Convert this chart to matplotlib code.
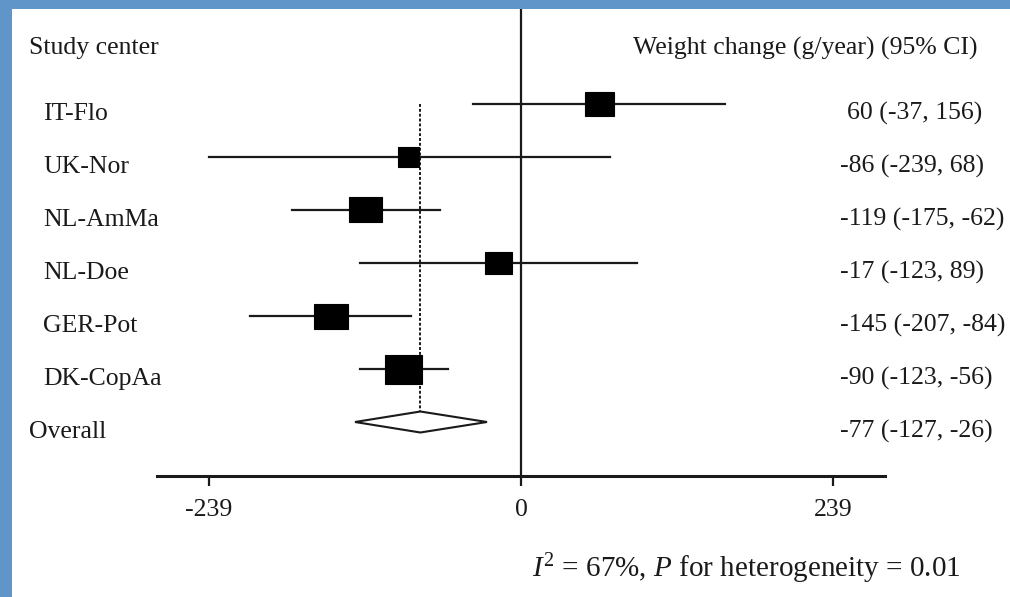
import matplotlib.pyplot as plt
from matplotlib.patches import Rectangle, Polygon
from matplotlib.transforms import blended_transform_factory

centers = ["IT-Flo", "UK-Nor", "NL-AmMa", "NL-Doe", "GER-Pot", "DK-CopAa"]
estimate = [60, -86, -119, -17, -145, -90]
ci_low = [-37, -239, -175, -123, -207, -123]
ci_high = [156, 68, -62, 89, -84, -56]
overall = -77
overall_ci = (-127, -26)
ticks = [-239, 0, 239]
i2, p_het = 67, 0.01

# box sizes in pixels (width, height), roughly by study weight
box_px = [(29, 24), (21, 20), (33, 25), (27, 22), (34, 25), (37, 29)]

W, H = 1010, 597
ink = "#1a1a1a"
plt.rcParams["font.family"] = ["Liberation Serif", "DejaVu Serif"]
plt.rcParams["mathtext.fontset"] = "custom"
plt.rcParams["mathtext.rm"] = "Liberation Serif"
plt.rcParams["mathtext.it"] = "Liberation Serif:italic"

fig = plt.figure(figsize=(W / 100, H / 100), dpi=100)
fig.patch.set_facecolor("#5f95c8")
fig.add_artist(Rectangle((12 / W, 0), 1, (H - 9) / H, transform=fig.transFigure,
                         facecolor="white", edgecolor="none", zorder=0))

# axes frame: x-axis from px 157 to 885, y from top of panel down to px 476
ax = fig.add_axes([157 / W, (H - 476) / H, (885 - 157) / W, (476 - 9) / H])
ax.set_facecolor("none")
ax.set_xlim(-278.5, 278.5)
row_px = 53.0
ax.set_ylim((476 - 104) / row_px, (9 - 104) / row_px)
px_x = (885 - 157) / (278.5 * 2)

for s in ("top", "right", "left"):
    ax.spines[s].set_visible(False)
ax.spines["bottom"].set_linewidth(2.2)
ax.spines["bottom"].set_color(ink)
ax.set_yticks([])
ax.set_xticks(ticks)
ax.set_xticklabels([str(t) for t in ticks])
ax.tick_params(axis="x", length=7.5, width=1.6, color=ink, pad=9,
               labelsize=18.5, labelcolor=ink)

ax.axvline(0, color=ink, lw=1.6, zorder=1)

n = len(centers)
ax.plot([overall, overall], [0, n], color=ink, lw=1.4, ls=(0, (1.5, 1.0)), zorder=1)

for i in range(n):
    ax.plot([ci_low[i], ci_high[i]], [i, i], color=ink, lw=1.6, zorder=2)
    bw = box_px[i][0] / px_x
    bh = box_px[i][1] / row_px
    ax.add_patch(Rectangle((estimate[i] - bw / 2, i - bh / 2), bw, bh,
                           facecolor="black", edgecolor="black", lw=0.8, zorder=3))

dh = 10.5 / row_px
ax.add_patch(Polygon([(overall_ci[0], n), (overall, n - dh), (overall_ci[1], n), (overall, n + dh)],
                     closed=True, facecolor="white", edgecolor=ink, lw=1.5, zorder=2))

# text columns: x in figure pixels, y in rows
def fx(px):
    return px / W

lab_tr = blended_transform_factory(fig.transFigure, ax.transData)
base = 16 / row_px
fs = 18.5
head_y = (54.5 - 104) / row_px

ax.text(fx(29), head_y, "Study center", transform=lab_tr,
        fontsize=fs, color=ink, va="baseline", ha="left")
ax.text(fx(633), head_y, "Weight change (g/year) (95% CI)",
        transform=lab_tr, fontsize=fs, color=ink, va="baseline", ha="left")

for i in range(n):
    ax.text(fx(43), i + base, centers[i], transform=lab_tr, fontsize=fs, color=ink,
            va="baseline", ha="left")
    lbl = f"{estimate[i]} ({ci_low[i]}, {ci_high[i]})"
    x0 = 840 if estimate[i] < 0 else 847
    ax.text(fx(x0), i + base, lbl, transform=lab_tr, fontsize=fs, color=ink,
            va="baseline", ha="left")

ax.text(fx(29), n + base, "Overall", transform=lab_tr, fontsize=fs, color=ink,
        va="baseline", ha="left")
ax.text(fx(840), n + base, f"{overall} ({overall_ci[0]}, {overall_ci[1]})", transform=lab_tr,
        fontsize=fs, color=ink, va="baseline", ha="left")

fig.text(fx(532), 1 - 577 / H,
         rf"$\mathit{{I}}^{{2}}$ = {i2}%, $\mathit{{P}}$ for heterogeneity = {p_het}",
         fontsize=21, color=ink, va="baseline", ha="left")

fig.savefig("out.png", dpi=100)
